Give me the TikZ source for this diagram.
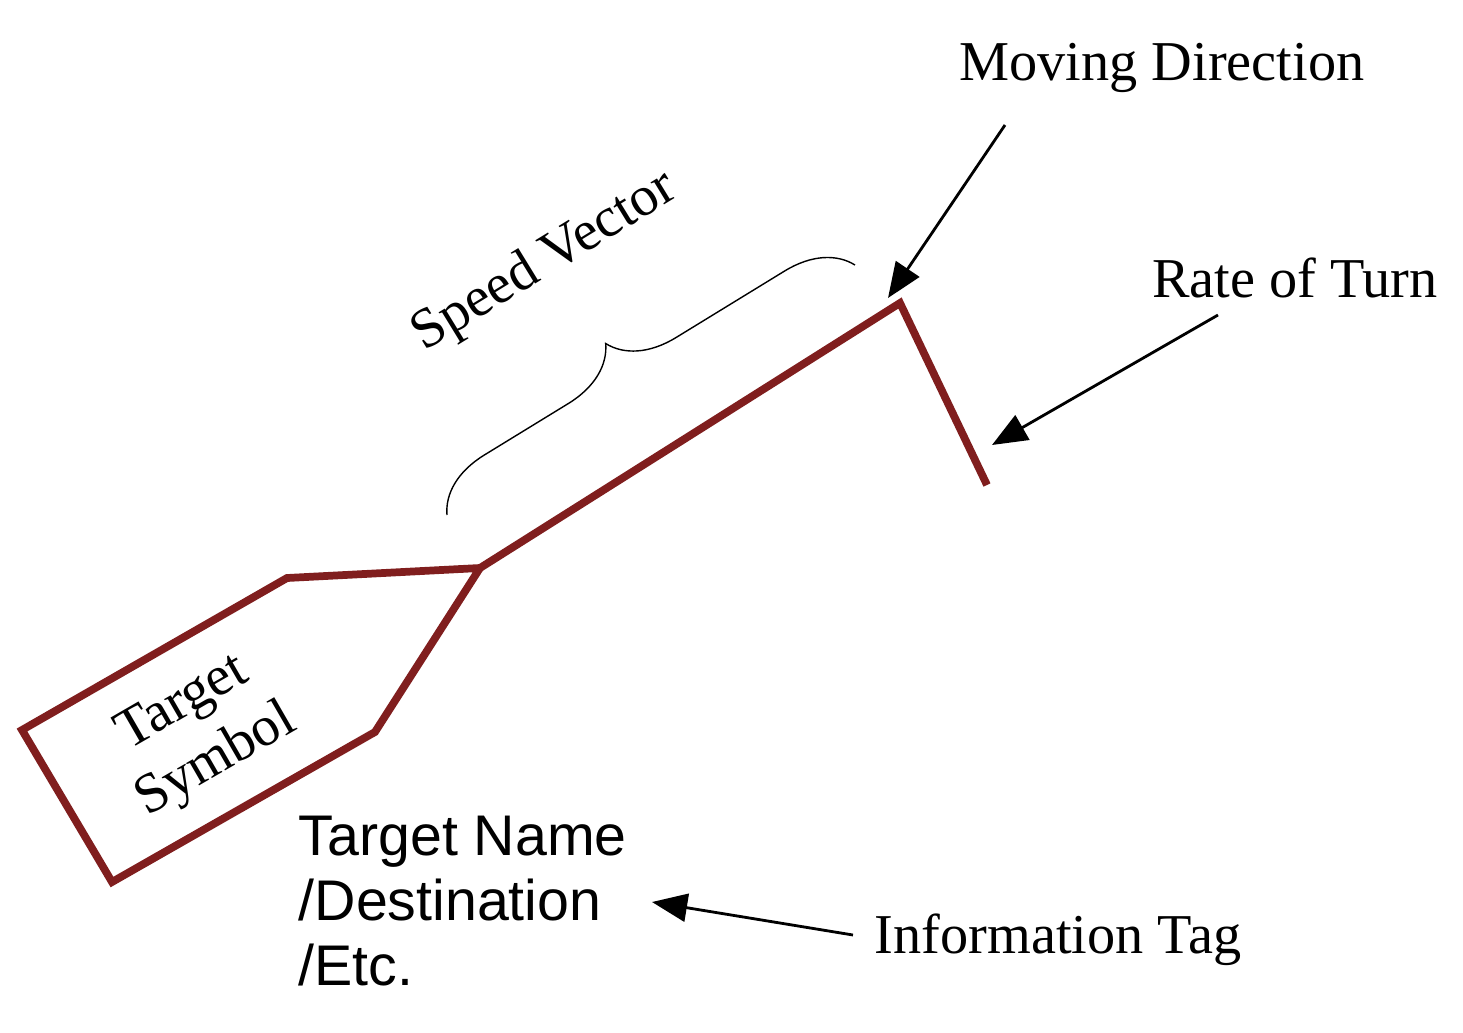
\documentclass[tikz,border=0pt]{standalone}
\usepackage{fontspec}
\setmainfont{Liberation Serif}
\newfontfamily\tagfont{Liberation Sans}
\usetikzlibrary{decorations.pathreplacing,arrows.meta}
\definecolor{symred}{RGB}{128,30,30}
\tikzset{
  symbol/.style={line width=2.2pt,symred,line join=miter},
  label/.style={font=\fontsize{16}{19}\selectfont,inner sep=0pt},
  pointer/.style={-{Triangle[length=10pt,width=8pt]},thick}
}
\begin{document}
\begin{tikzpicture}[x=0.01cm,y=-0.01cm]
  \useasboundingbox (0,0) rectangle (1463,1033);

  % target symbol and speed vector
  \coordinate (neck) at (480,568);
  \coordinate (head) at (900,303);
  \coordinate (turn) at (987,485);
  \draw [symbol] (neck) -- (287,578) -- (22,730) -- (112,882) -- (375,732) -- cycle;
  \draw [symbol] (neck) -- (head) -- (turn);
  \node [label,rotate=30,align=center] (sym) at (200,733) {Target\\Symbol};

  % brace over the vector
  \draw [decorate,decoration={brace,amplitude=18pt,aspect=0.47}] (447,515) -- (855,265);
  \node [label,rotate=31.5] (speed) at (545,262) {Speed Vector};

  % labels with arrows
  \node [label] (move) at (1162,68) {Moving Direction};
  \coordinate (moveA) at (1005,125);
  \draw [pointer] (moveA) -- (888,298);

  \node [label] (rot) at (1295,278) {Rate of Turn};
  \coordinate (rotA) at (1218,315);
  \draw [pointer] (rotA) -- (992,445);

  \node [label,font=\tagfont\fontsize{16.3}{18.5}\selectfont,align=left,anchor=north west] (tag) at (298,815) {Target Name\\/Destination\\/Etc.};
  \node [label] (info) at (1058,940) {Information Tag};
  \coordinate (infoA) at (853,935);
  \draw [pointer] (infoA) -- (652,902);
\end{tikzpicture}
\end{document}
